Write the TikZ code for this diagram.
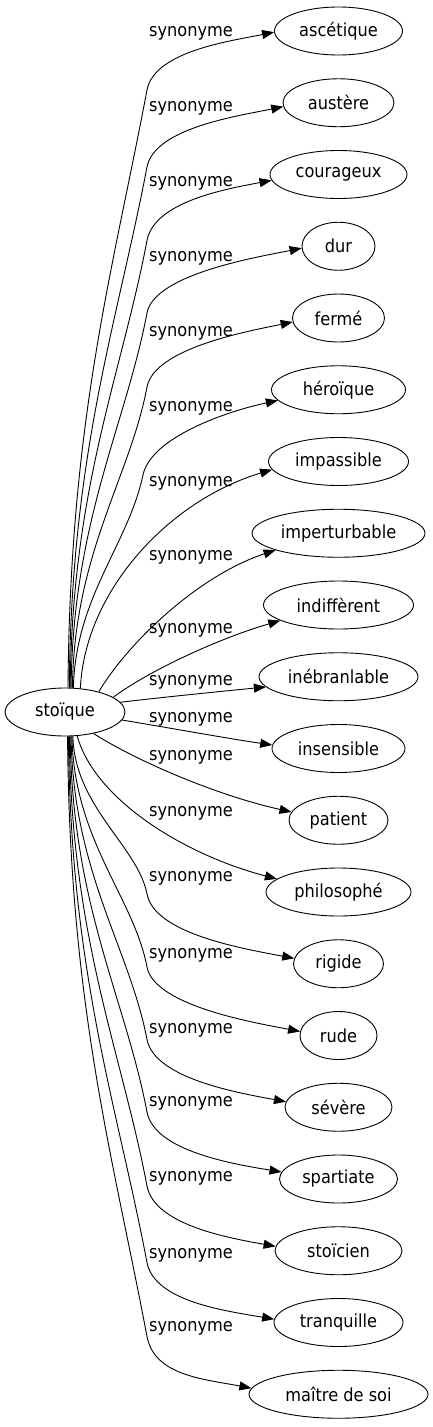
\documentclass[tikz,border=0pt]{standalone}
\usepackage{fontspec}
\setmainfont{DejaVu Sans}[FakeStretch=0.9]
\usetikzlibrary{arrows.meta,shapes.geometric}
\begin{document}
\begin{tikzpicture}[x=1pt,y=-1pt,
  word/.style={ellipse, draw, line width=0.9pt, inner sep=0pt, minimum height=48pt, font=\fontsize{18}{21}\selectfont},
  lab/.style={inner sep=0pt, font=\fontsize{18}{21}\selectfont},
  synedge/.style={line width=0.9pt, -{Triangle[length=12pt,width=9pt]}}]
\useasboundingbox (0,0) rectangle (433,1427);

\node[word, minimum width=120pt] (s) at (65,712) {stoïque};

\node[word, minimum width=128pt] (n0) at (338.5,31) {ascétique};
\node[word, minimum width=111pt] (n1) at (338.5,102.75) {austère};
\node[word, minimum width=137pt] (n2) at (338.5,174.5) {courageux};
\node[word, minimum width=73pt] (n3) at (338.5,246.25) {dur};
\node[word, minimum width=92pt] (n4) at (338.5,318) {fermé};
\node[word, minimum width=134pt] (n5) at (338.5,389.75) {héroïque};
\node[word, minimum width=140pt] (n6) at (338.5,461.5) {impassible};
\node[word, minimum width=173pt] (n7) at (338.5,533.25) {imperturbable};
\node[word, minimum width=150pt] (n8) at (338.5,605) {indiffèrent};
\node[word, minimum width=159pt] (n9) at (338.5,676.75) {inébranlable};
\node[word, minimum width=133pt] (n10) at (338.5,748.5) {insensible};
\node[word, minimum width=99pt] (n11) at (338.5,820.25) {patient};
\node[word, minimum width=145pt] (n12) at (338.5,892) {philosophé};
\node[word, minimum width=90pt] (n13) at (338.5,963.75) {rigide};
\node[word, minimum width=77pt] (n14) at (338.5,1035.5) {rude};
\node[word, minimum width=107pt] (n15) at (338.5,1107.25) {sévère};
\node[word, minimum width=118pt] (n16) at (338.5,1179) {spartiate};
\node[word, minimum width=127pt] (n17) at (338.5,1250.75) {stoïcien};
\node[word, minimum width=129pt] (n18) at (338.5,1322.5) {tranquille};
\node[word, minimum width=179pt] (n19) at (338.5,1394.25) {maître de soi};

\node[lab] (l0) at (191,33) {synonyme};
\node[lab] (l1) at (191,108) {synonyme};
\node[lab] (l2) at (191,183) {synonyme};
\node[lab] (l3) at (191,258) {synonyme};
\node[lab] (l4) at (191,333) {synonyme};
\node[lab] (l5) at (191,408) {synonyme};
\node[lab] (l6) at (191,483) {synonyme};
\node[lab] (l7) at (191,557) {synonyme};
\node[lab] (l8) at (191,630) {synonyme};
\node[lab] (l9) at (191,682) {synonyme};
\node[lab] (l10) at (191,719) {synonyme};
\node[lab] (l11) at (191,757) {synonyme};
\node[lab] (l12) at (191,813) {synonyme};
\node[lab] (l13) at (191,878) {synonyme};
\node[lab] (l14) at (191,955) {synonyme};
\node[lab] (l15) at (191,1030) {synonyme};
\node[lab] (l16) at (191,1103) {synonyme};
\node[lab] (l17) at (191,1178) {synonyme};
\node[lab] (l18) at (191,1255) {synonyme};
\node[lab] (l19) at (191,1328) {synonyme};

% upper edges
\draw[synedge] (s.83) .. controls (70,419) and (113,270) .. (147,90) .. controls (154.5,51) and (231,41) .. (n0.181);
\draw[synedge] (s.80.5) .. controls (71,454) and (117,324) .. (147,167) .. controls (154.5,128) and (238,116) .. (n1.184);
\draw[synedge] (s.78) .. controls (72,487) and (121.5,375) .. (147,240.5) .. controls (154.5,201.5) and (226,189) .. (n2.185);
\draw[synedge] (s.76) .. controls (73,520) and (125.5,426) .. (147,313) .. controls (154.5,274) and (258,257) .. (n3.183);
\draw[synedge] (s.73.5) .. controls (74,553) and (130,477.6) .. (147,387) .. controls (154.5,348) and (249,331) .. (n4.185);
\draw[synedge] (s.71) .. controls (76,596) and (128,545) .. (143,475) .. controls (151,437) and (228,411) .. (n5.190);
\draw[synedge] (s.57) .. controls (85,590) and (170,500) .. (n6.187);
\draw[synedge] (s.31) .. controls (130,640) and (200,575) .. (n7.195);
\draw[synedge] (s.17) .. controls (150,670) and (220,638) .. (n8.195);
\draw[synedge] (s.10) .. controls (165,697) and (215,692) .. (n9.188);
% middle / lower edges
\draw[synedge] (s.-8) .. controls (170,728) and (225,738) .. (n10.177);
\draw[synedge] (s.-37) .. controls (135,760) and (215,795) .. (n11.170);
\draw[synedge] (s.-63) .. controls (95,800) and (185,855) .. (n12.168);
\draw[synedge] (s.-72) .. controls (74.7,807) and (138,846.6) .. (147,894) .. controls (154.5,933) and (239,948) .. (n13.173);
\draw[synedge] (s.-74) .. controls (73.8,840) and (134,898) .. (147,967) .. controls (154.5,1006) and (256,1023) .. (n14.174);
\draw[synedge] (s.-76) .. controls (73,872.6) and (129.7,948.5) .. (147,1039.5) .. controls (154.5,1078.5) and (239,1093) .. (n15.174);
\draw[synedge] (s.-78) .. controls (72,905) and (125.6,999.2) .. (147,1112) .. controls (154.5,1151) and (233,1164) .. (n16.173);
\draw[synedge] (s.-80) .. controls (71.2,938.5) and (121.4,1051) .. (147,1186) .. controls (154.5,1225) and (229,1238) .. (n17.176);
\draw[synedge] (s.-82) .. controls (70.4,973) and (117,1104.5) .. (147,1262.5) .. controls (154.5,1301.5) and (226,1311) .. (n18.177);
\draw[synedge] (s.-84) .. controls (69.5,1006) and (113,1156.5) .. (147,1336.5) .. controls (154.5,1375.5) and (203,1379) .. (n19.176);
\end{tikzpicture}
\end{document}
